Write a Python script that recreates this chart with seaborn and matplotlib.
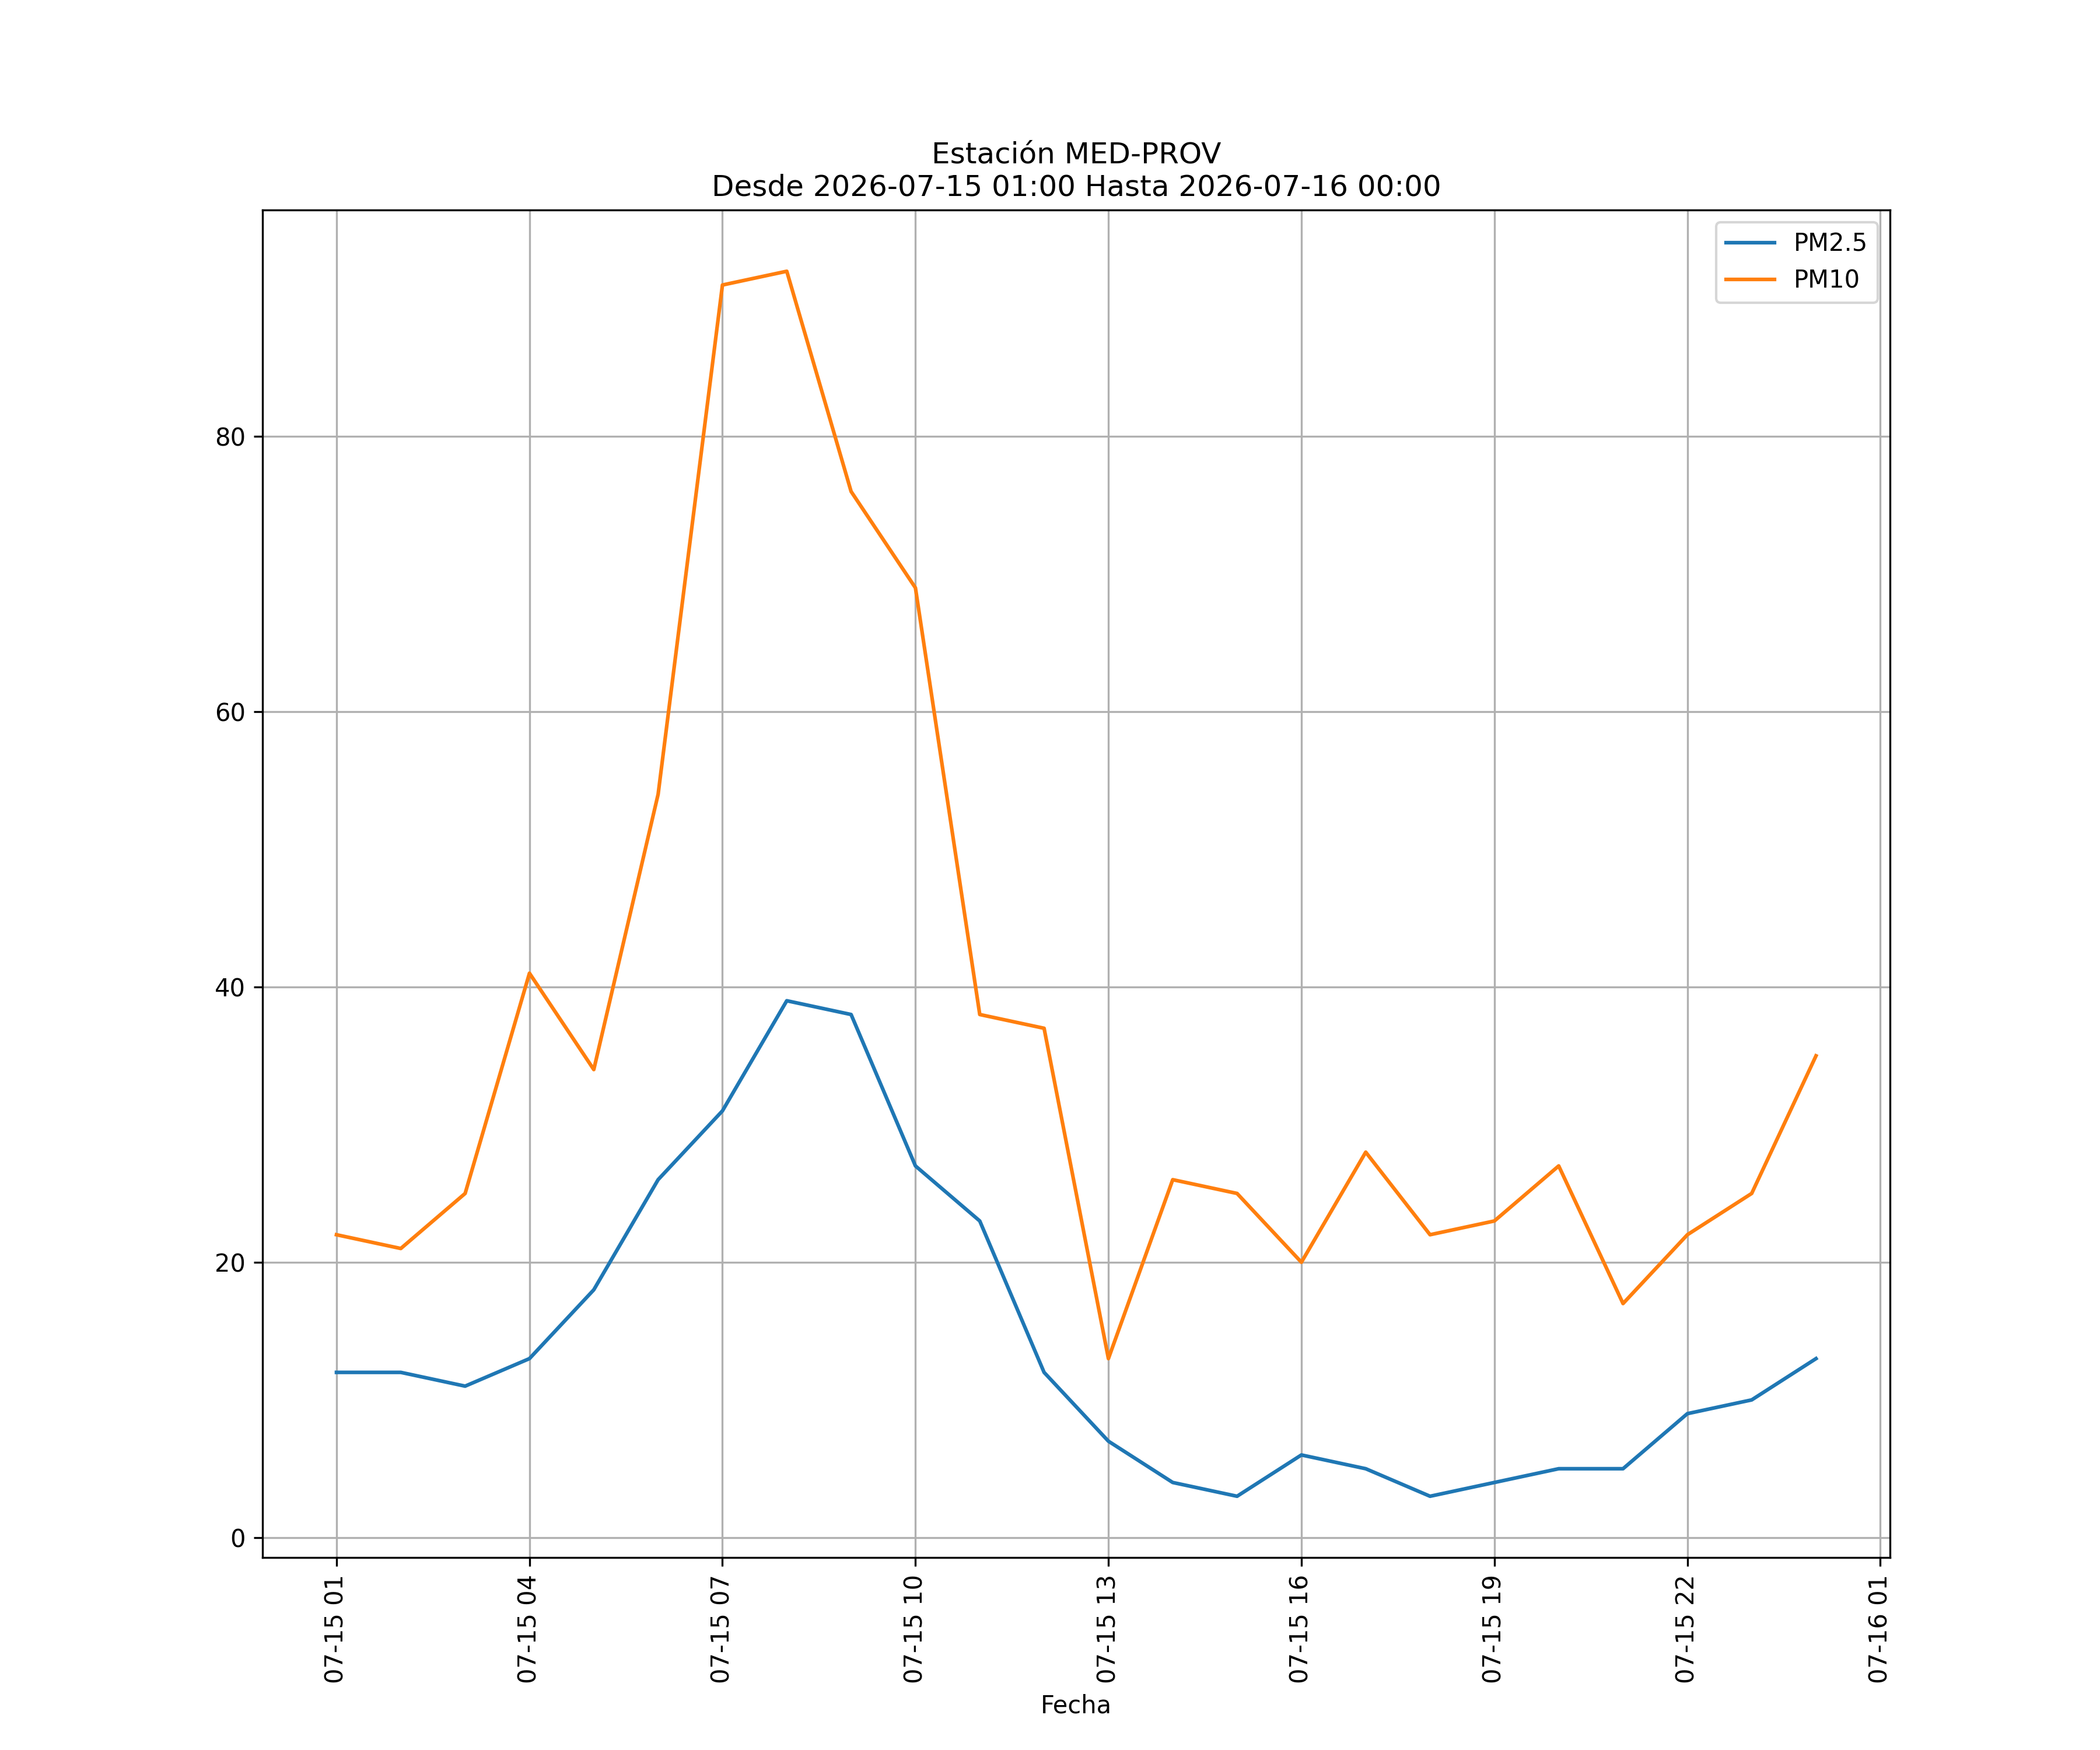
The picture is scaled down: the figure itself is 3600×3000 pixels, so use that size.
import pandas as pd
import matplotlib
matplotlib.use('Agg')
import matplotlib.pyplot as plt
import matplotlib.dates as mdates
import seaborn as sns

fechas = pd.date_range('2026-07-15 01:00', '2026-07-16 00:00', freq='h')
pm25 = [12, 12, 11, 13, 18, 26, 31, 39, 38, 27, 23, 12,
        7, 4, 3, 6, 5, 3, 4, 5, 5, 9, 10, 13]
pm10 = [22, 21, 25, 41, 34, 54, 91, 92, 76, 69, 38, 37,
        13, 26, 25, 20, 28, 22, 23, 27, 17, 22, 25, 35]

data = pd.DataFrame({'Fecha': fechas, 'PM2.5': pm25, 'PM10': pm10})

fig, ax = plt.subplots(figsize=(12, 10), dpi=300)

sns.lineplot(data=data, x='Fecha', y='PM2.5', label='PM2.5', color='#1f77b4', ax=ax)
sns.lineplot(data=data, x='Fecha', y='PM10', label='PM10', color='#ff7f0e', ax=ax)

ax.set_title('Estación MED-PROV\nDesde 2026-07-15 01:00 Hasta 2026-07-16 00:00')
ax.set_xlabel('Fecha')
ax.set_ylabel('')
ax.xaxis.set_major_locator(mdates.HourLocator(byhour=range(1, 24, 3)))
ax.xaxis.set_major_formatter(mdates.DateFormatter('%m-%d %H'))
ax.tick_params(axis='x', rotation=90)
ax.grid(True)
ax.legend(loc='upper right')

fig.savefig('out.png', dpi=300)
